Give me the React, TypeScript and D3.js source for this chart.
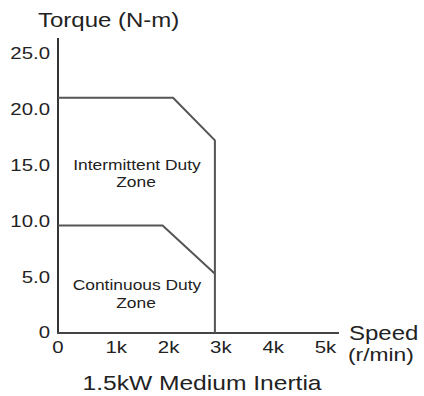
import React from "react";
import * as d3 from "d3";

const yTicks = [0, 5, 10, 15, 20, 25];
const yTickLabels = ["0", "5.0", "10.0", "15.0", "20.0", "25.0"];
const xTicks = [0, 1000, 2000, 3000, 4000, 5000];
const xTickLabels = ["0", "1k", "2k", "3k", "4k", "5k"];
const intermittentSpeed = [0, 2200, 3000, 3000];
const intermittentTorque = [21, 21, 17.2, 0];
const continuousSpeed = [0, 2000, 3000];
const continuousTorque = [9.6, 9.6, 5.3];

const SX = 1.2;

function Label(props: { x: number; y: number; size: number; anchor?: string; children: React.ReactNode; sx?: number }) {
  const { x, y, size, anchor = "start", children, sx = SX } = props;
  return (
    <text x={x / sx} y={y} transform={`scale(${sx},1)`} fontSize={size} textAnchor={anchor as any} fill="#222">
      {children}
    </text>
  );
}

export default function App() {
  const W = 424, H = 396;
  const x = d3.scaleLinear().domain([0, 5000]).range([58, 319.5]);
  const y = d3.scaleLinear().domain([0, 25]).range([333, 53]);
  const line = d3.line<[number, number]>().x(d => x(d[0])).y(d => y(d[1]));
  const inter = intermittentSpeed.map((s, i) => [s, intermittentTorque[i]] as [number, number]);
  const cont = continuousSpeed.map((s, i) => [s, continuousTorque[i]] as [number, number]);
  const font = "'Liberation Sans', Arial, sans-serif";
  const lineCol = "#555";
  return (
    <svg width={W} height={H} style={{ position: "absolute", left: 0, top: 0, background: "#fff" }} fontFamily={font}>
      <Label x={38} y={27} size={20}>Torque (N-m)</Label>
      <line x1={x(0)} x2={x(0)} y1={38} y2={y(0)} stroke="#333" strokeWidth={2} />
      <line x1={x(0) - 1} x2={339} y1={y(0)} y2={y(0)} stroke="#444" strokeWidth={2} />
      {yTicks.map((t, i) => (
        <Label key={t} x={50} y={i === 0 ? 338 : y(t) + 6} size={17} anchor="end">{yTickLabels[i]}</Label>
      ))}
      {xTicks.map((t, i) => (
        <Label key={t} x={i === 0 ? x(t) : x(t) + 6} y={353} size={17} anchor="middle">{xTickLabels[i]}</Label>
      ))}
      <path d={line(inter) || ""} fill="none" stroke={lineCol} strokeWidth={2} />
      <path d={line(cont) || ""} fill="none" stroke={lineCol} strokeWidth={2} />
      <Label x={137} y={170} size={14.5} anchor="middle">Intermittent Duty</Label>
      <Label x={136} y={187} size={14.5} anchor="middle">Zone</Label>
      <Label x={137} y={290} size={14.5} anchor="middle">Continuous Duty</Label>
      <Label x={136} y={308} size={14.5} anchor="middle">Zone</Label>
      <Label x={349} y={340} size={20}>Speed</Label>
      <Label x={348} y={361} size={19}>(r/min)</Label>
      <Label x={202} y={390} size={20.5} anchor="middle">1.5kW Medium Inertia</Label>
    </svg>
  );
}
